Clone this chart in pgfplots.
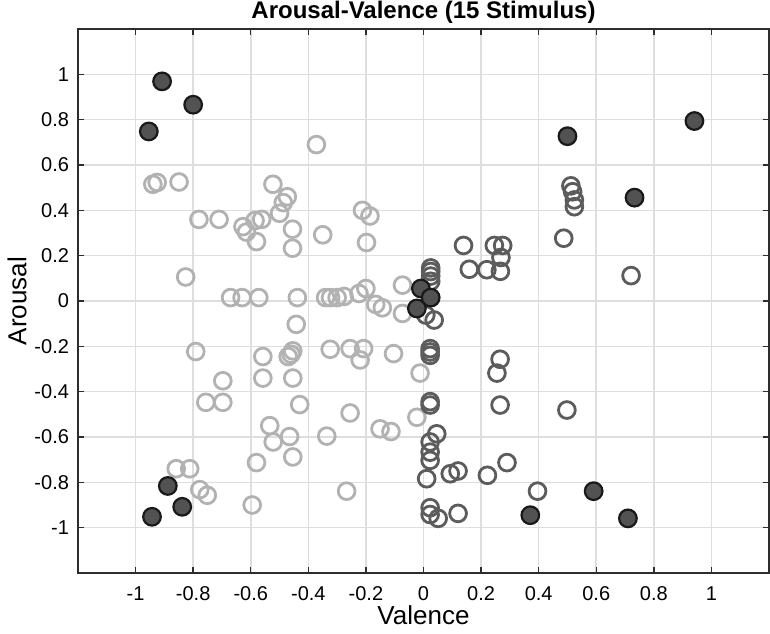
\documentclass[border=0pt]{standalone}
\usepackage{fontspec}
\setmainfont{Liberation Sans}
\usepackage{pgfplots}
\pgfplotsset{compat=1.18}
\usetikzlibrary{calc}

\definecolor{lightring}{RGB}{178,178,178}
\definecolor{darkring}{RGB}{92,92,92}
\definecolor{dotfill}{RGB}{82,82,82}
\definecolor{axisgray}{RGB}{45,45,45}
\definecolor{gridgray}{RGB}{222,222,222}

\begin{document}
\begin{tikzpicture}
\begin{axis}[
  scale only axis,
  width=345.5bp, height=272bp,
  xmin=-1.2, xmax=1.2, ymin=-1.2, ymax=1.2,
  xtick={-1,-0.8,-0.6,-0.4,-0.2,0,0.2,0.4,0.6,0.8,1},
  ytick={-1,-0.8,-0.6,-0.4,-0.2,0,0.2,0.4,0.6,0.8,1},
  /pgf/number format/assume math mode=true,
  tick label style={font=\fontsize{10bp}{12bp}\selectfont, color=black},
  xticklabel style={yshift=-3.4bp},
  yticklabel style={xshift=-1bp},
  tick align=inside,
  major tick length=3bp,
  every tick/.style={axisgray, line width=0.7bp},
  axis line style={axisgray, line width=0.9bp},
  grid=major,
  grid style={gridgray, line width=0.8bp},
  title={\bfseries Arousal-Valence (15 Stimulus)},
  every axis title/.style={font=\fontsize{12bp}{14bp}\selectfont, at={(axis description cs:0.5,1.0202)}, anchor=base},
  xlabel={Valence},
  every axis x label/.style={font=\fontsize{13bp}{15bp}\selectfont, at={(axis description cs:0.5,-0.078)}, anchor=center},
  ylabel={Arousal},
  every axis y label/.style={font=\fontsize{13bp}{15bp}\selectfont, at={(axis description cs:-0.088,0.5)}, anchor=center, rotate=90},
]

% negative-valence ratings (light rings)
\addplot[only marks, mark=o, mark size=4.2bp, mark options={draw=lightring, line width=1.4bp}] coordinates {
(-0.372,0.69) (-0.925,0.523) (-0.94,0.515) (-0.849,0.525) (-0.523,0.515)
(-0.473,0.46) (-0.487,0.434) (-0.50,0.387) (-0.78,0.36) (-0.71,0.36)
(-0.627,0.328) (-0.615,0.304) (-0.58,0.262) (-0.562,0.36) (-0.585,0.355)
(-0.455,0.317) (-0.455,0.233) (-0.35,0.292) (-0.212,0.40) (-0.186,0.375)
(-0.198,0.258) (-0.826,0.106) (-0.073,0.07)
(-0.67,0.015) (-0.63,0.015) (-0.572,0.015) (-0.438,0.015) (-0.34,0.015)
(-0.323,0.015) (-0.30,0.015) (-0.276,0.02) (-0.2,0.055) (-0.224,0.033)
(-0.166,-0.015) (-0.143,-0.03) (-0.073,-0.055)
(-0.442,-0.103) (-0.791,-0.223) (-0.558,-0.245) (-0.454,-0.22) (-0.46,-0.235)
(-0.47,-0.245) (-0.324,-0.213) (-0.255,-0.21) (-0.208,-0.21) (-0.22,-0.26)
(-0.104,-0.232) (-0.012,-0.318) (-0.697,-0.352) (-0.558,-0.34) (-0.454,-0.34)
(-0.756,-0.447) (-0.697,-0.447) (-0.43,-0.457) (-0.255,-0.494) (-0.023,-0.513)
(-0.534,-0.55) (-0.522,-0.622) (-0.465,-0.598) (-0.336,-0.596) (-0.151,-0.564)
(-0.113,-0.576) (-0.454,-0.688) (-0.58,-0.713) (-0.859,-0.74) (-0.812,-0.74)
(-0.777,-0.832) (-0.751,-0.857) (-0.595,-0.90) (-0.267,-0.839)
};

% positive-valence ratings (dark rings)
\addplot[only marks, mark=o, mark size=4.2bp, mark options={draw=darkring, line width=1.4bp}] coordinates {
(0.512,0.508) (0.518,0.482) (0.524,0.446) (0.524,0.416) (0.487,0.277) (0.721,0.112)
(0.139,0.245) (0.246,0.245) (0.275,0.245) (0.269,0.192) (0.159,0.14) (0.22,0.138) (0.267,0.131)
(0.025,0.146) (0.025,0.13) (0.025,0.11) (0.025,0.087)
(0.008,-0.062) (0.037,-0.084)
(0.023,-0.21) (0.023,-0.225) (0.023,-0.24)
(0.266,-0.257) (0.255,-0.318)
(0.023,-0.444) (0.023,-0.459) (0.266,-0.459) (0.498,-0.481)
(0.046,-0.586) (0.023,-0.622) (0.023,-0.667) (0.023,-0.703) (0.011,-0.784)
(0.093,-0.762) (0.12,-0.75) (0.222,-0.769) (0.29,-0.713) (0.396,-0.839)
(0.023,-0.912) (0.023,-0.942) (0.051,-0.959) (0.12,-0.937)
};

% the 15 stimuli
\addplot[only marks, mark=*, mark size=4.4bp, mark options={draw=black!90, fill=dotfill, line width=1.1bp}] coordinates {
(-0.908,0.969) (-0.80,0.866) (-0.954,0.748)
(0.50,0.727) (0.941,0.794) (0.733,0.456)
(-0.009,0.055) (0.025,0.015) (-0.023,-0.033)
(-0.888,-0.816) (-0.838,-0.908) (-0.943,-0.952)
(0.591,-0.839) (0.371,-0.945) (0.71,-0.959)
};

\end{axis}
\pgfresetboundingbox
\path[use as bounding box] ($(current axis.south west)+(-39bp,-30.5bp)$) rectangle ($(current axis.north east)+(0.5bp,14.5bp)$);
\end{tikzpicture}
\end{document}
